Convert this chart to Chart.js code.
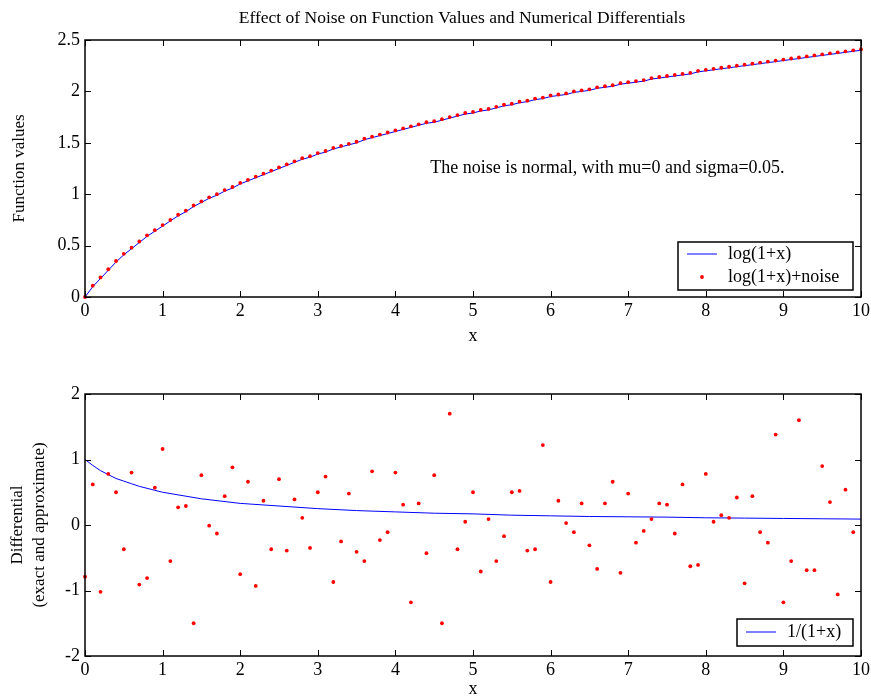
<!DOCTYPE html>
<html>
<head>
<meta charset="utf-8">
<title>Effect of Noise on Function Values and Numerical Differentials</title>
<script src="https://cdn.jsdelivr.net/npm/chart.js@4.4.0/dist/chart.umd.min.js"></script>
<style>
  body { margin: 0; background: #fff; }
  #wrap { position: relative; width: 871px; height: 698px; }
  canvas { position: absolute; left: 0; }
</style>
</head>
<body>
<div id="wrap">
  <canvas id="funcChart" width="871" height="350" style="top:0"></canvas>
  <canvas id="diffChart" width="871" height="348" style="top:350px"></canvas>
</div>
<script>
// sample points, x = 0 .. 10 in steps of 0.1
var xValues = [0, 0.1, 0.2, 0.3, 0.4, 0.5, 0.6, 0.7, 0.8, 0.9,
  1, 1.1, 1.2, 1.3, 1.4, 1.5, 1.6, 1.7, 1.8, 1.9,
  2, 2.1, 2.2, 2.3, 2.4, 2.5, 2.6, 2.7, 2.8, 2.9,
  3, 3.1, 3.2, 3.3, 3.4, 3.5, 3.6, 3.7, 3.8, 3.9,
  4, 4.1, 4.2, 4.3, 4.4, 4.5, 4.6, 4.7, 4.8, 4.9,
  5, 5.1, 5.2, 5.3, 5.4, 5.5, 5.6, 5.7, 5.8, 5.9,
  6, 6.1, 6.2, 6.3, 6.4, 6.5, 6.6, 6.7, 6.8, 6.9,
  7, 7.1, 7.2, 7.3, 7.4, 7.5, 7.6, 7.7, 7.8, 7.9,
  8, 8.1, 8.2, 8.3, 8.4, 8.5, 8.6, 8.7, 8.8, 8.9,
  9, 9.1, 9.2, 9.3, 9.4, 9.5, 9.6, 9.7, 9.8, 9.9, 10];

// log(1+x)
var logValues = [0.00, 0.10, 0.18, 0.26, 0.34, 0.41, 0.47, 0.53, 0.59, 0.64,
  0.69, 0.74, 0.79, 0.83, 0.88, 0.92, 0.96, 0.99, 1.03, 1.06,
  1.10, 1.13, 1.16, 1.19, 1.22, 1.25, 1.28, 1.31, 1.34, 1.36,
  1.39, 1.41, 1.44, 1.46, 1.48, 1.50, 1.53, 1.55, 1.57, 1.59,
  1.61, 1.63, 1.65, 1.67, 1.69, 1.70, 1.72, 1.74, 1.76, 1.78,
  1.79, 1.81, 1.82, 1.84, 1.86, 1.87, 1.89, 1.90, 1.92, 1.93,
  1.95, 1.96, 1.97, 1.99, 2.00, 2.01, 2.03, 2.04, 2.05, 2.07,
  2.08, 2.09, 2.10, 2.12, 2.13, 2.14, 2.15, 2.16, 2.17, 2.19,
  2.20, 2.21, 2.22, 2.23, 2.24, 2.25, 2.26, 2.27, 2.28, 2.29,
  2.30, 2.31, 2.32, 2.33, 2.34, 2.35, 2.36, 2.37, 2.38, 2.39, 2.40];

// red dots of the upper plot (they sit a hair above the curve)
var noisyValues = [0.00, 0.11, 0.19, 0.27, 0.35, 0.42, 0.48, 0.54, 0.60, 0.65,
  0.70, 0.75, 0.80, 0.84, 0.89, 0.93, 0.97, 1.00, 1.04, 1.07,
  1.11, 1.14, 1.17, 1.20, 1.23, 1.26, 1.29, 1.32, 1.35, 1.37,
  1.40, 1.42, 1.45, 1.47, 1.49, 1.51, 1.54, 1.56, 1.58, 1.60,
  1.62, 1.64, 1.66, 1.68, 1.70, 1.71, 1.73, 1.75, 1.77, 1.79,
  1.80, 1.82, 1.83, 1.85, 1.87, 1.88, 1.90, 1.91, 1.93, 1.94,
  1.96, 1.97, 1.98, 2.00, 2.01, 2.02, 2.04, 2.05, 2.06, 2.08,
  2.09, 2.10, 2.11, 2.13, 2.14, 2.15, 2.16, 2.17, 2.18, 2.20,
  2.21, 2.22, 2.23, 2.24, 2.25, 2.26, 2.27, 2.28, 2.29, 2.30,
  2.31, 2.32, 2.33, 2.34, 2.35, 2.36, 2.37, 2.38, 2.39, 2.40, 2.41];

// exact differential 1/(1+x)
var exactX = [0, 0.1, 0.2, 0.3, 0.4, 0.5, 0.6, 0.7, 0.8, 0.9, 1, 1.5, 2, 2.5, 3, 3.5, 4, 4.5, 5,
  5.5, 6, 6.5, 7, 7.5, 8, 8.5, 9, 9.5, 10];
var exactValues = [1.00, 0.91, 0.83, 0.77, 0.71, 0.67, 0.63, 0.59, 0.56, 0.53, 0.50, 0.40, 0.33,
  0.29, 0.25, 0.22, 0.20, 0.18, 0.17, 0.15, 0.14, 0.13, 0.125, 0.12, 0.11, 0.105, 0.10, 0.095, 0.09];

// numerical differential of the noisy data, x = 0 .. 9.9
var approxValues = [-0.79, 0.62, -1.02, 0.78, 0.50, -0.37, 0.80, -0.91, -0.81, 0.57,
  1.16, -0.55, 0.27, 0.29, -1.50, 0.76, -0.01, -0.13, 0.44, 0.88,
  -0.75, 0.66, -0.93, 0.37, -0.37, 0.70, -0.39, 0.39, 0.11, -0.35,
  0.50, 0.74, -0.87, -0.25, 0.48, -0.41, -0.55, 0.82, -0.23, -0.11,
  0.80, 0.31, -1.18, 0.33, -0.43, 0.76, -1.50, 1.70, -0.37, 0.05,
  0.50, -0.71, 0.09, -0.55, -0.17, 0.50, 0.52, -0.39, -0.37, 1.22,
  -0.87, 0.37, 0.03, -0.11, 0.33, -0.31, -0.67, 0.33, 0.66, -0.73,
  0.48, -0.27, -0.09, 0.09, 0.33, 0.31, -0.13, 0.62, -0.63, -0.61,
  0.78, 0.05, 0.15, 0.11, 0.42, -0.89, 0.44, -0.11, -0.27, 1.38,
  -1.18, -0.55, 1.60, -0.69, -0.69, 0.90, 0.35, -1.06, 0.54, -0.11];

var titleText = 'Effect of Noise on Function Values and Numerical Differentials';
var noteText = 'The noise is normal, with mu=0 and sigma=0.05.';
var fontFam = "'Liberation Serif', 'Times New Roman', serif";

function toPoints(xs, ys) {
    var pts = [];
    for (var i = 0; i < ys.length; i++) pts.push({ x: xs[i], y: ys[i] });
    return pts;
}

// matlab style box: frame, inward ticks on all sides, title, legend box and note
var matlabBox = {
    id: 'matlabBox',
    afterDatasetsDraw: function (chart, args, opts) {
        var ctx = chart.ctx, a = chart.chartArea;
        var sx = chart.scales.x, sy = chart.scales.y;
        ctx.save();
        ctx.strokeStyle = '#000';
        ctx.lineWidth = 1;
        ctx.beginPath();
        sx.ticks.forEach(function (t) {
            var px = Math.round(sx.getPixelForValue(t.value)) + 0.5;
            ctx.moveTo(px, a.top); ctx.lineTo(px, a.top + 6);
            ctx.moveTo(px, a.bottom); ctx.lineTo(px, a.bottom - 6);
        });
        sy.ticks.forEach(function (t) {
            var py = Math.round(sy.getPixelForValue(t.value)) + 0.5;
            ctx.moveTo(a.left, py); ctx.lineTo(a.left + 6, py);
            ctx.moveTo(a.right, py); ctx.lineTo(a.right - 6, py);
        });
        ctx.stroke();
        ctx.lineWidth = 1.5;
        ctx.strokeRect(a.left, a.top, a.right - a.left, a.bottom - a.top);

        ctx.fillStyle = '#000';
        ctx.textBaseline = 'middle';
        if (opts.title) {
            ctx.font = '17.5px ' + fontFam;
            ctx.textAlign = 'center';
            ctx.fillText(opts.title.text, opts.title.x, opts.title.y);
        }
        ctx.font = '18px ' + fontFam;
        if (opts.note) {
            ctx.textAlign = 'left';
            ctx.fillText(opts.note.text, sx.getPixelForValue(opts.note.x), sy.getPixelForValue(opts.note.y));
        }
        if (opts.legend) {
            var L = opts.legend;
            var bx = a.right - L.right - L.width, by = a.bottom - L.bottom - L.height;
            ctx.fillStyle = '#fff';
            ctx.fillRect(bx, by, L.width, L.height);
            ctx.strokeStyle = '#000';
            ctx.lineWidth = 1.5;
            ctx.strokeRect(bx, by, L.width, L.height);
            var row = 0;
            chart.data.datasets.forEach(function (ds) {
                if (!ds.label) return;
                var ry = by + L.firstRow + row * L.rowGap;
                row++;
                if (ds.showLine === false) {
                    ctx.fillStyle = ds.backgroundColor;
                    ctx.beginPath();
                    ctx.arc(bx + 24, ry, ds.pointRadius, 0, Math.PI * 2);
                    ctx.fill();
                } else {
                    ctx.strokeStyle = ds.borderColor;
                    ctx.lineWidth = ds.borderWidth;
                    ctx.beginPath();
                    ctx.moveTo(bx + 9, ry); ctx.lineTo(bx + 39, ry);
                    ctx.stroke();
                }
                ctx.fillStyle = '#000';
                ctx.textAlign = 'left';
                ctx.fillText(ds.label, bx + 50, ry);
            });
        }
        ctx.restore();
    }
};

function axisOptions(min, max, step, title, xHeight, titlePad, yTitlePad) {
    return {
        x: {
            type: 'linear', min: 0, max: 10,
            grid: { display: false, drawTicks: false }, border: { display: false },
            ticks: { stepSize: 1, color: '#000', padding: 3, maxRotation: 0, font: { family: fontFam, size: 18 } },
            title: { display: true, text: 'x', color: '#000', padding: { top: 0, bottom: titlePad }, font: { family: fontFam, size: 18, lineHeight: 1.0 } },
            afterFit: function (scale) {
                scale.height = xHeight;
                // let the end labels hang past the frame, as in the original
                scale.paddingLeft = 0;
                scale.paddingRight = 0;
            }
        },
        y: {
            type: 'linear', min: min, max: max,
            grid: { display: false, drawTicks: false }, border: { display: false },
            ticks: {
                stepSize: step, color: '#000', padding: 5, font: { family: fontFam, size: 18 },
                callback: function (v) { return String(v); }
            },
            title: { display: true, text: title, color: '#000', padding: { top: yTitlePad, bottom: 0 }, font: { family: fontFam, size: 17, lineHeight: 1.3 } },
            afterFit: function (scale) { scale.width = 85; }
        }
    };
}

//upper plot: function values
new Chart(document.getElementById('funcChart'), {
    type: 'line',
    data: {
        datasets: [{
            label: 'log(1+x)',
            data: toPoints(xValues, logValues),
            borderColor: '#0000ff', borderWidth: 1, pointRadius: 0, tension: 0, order: 1
        }, {
            label: 'log(1+x)+noise',
            data: toPoints(xValues, noisyValues),
            showLine: false, pointRadius: 1.9, backgroundColor: '#ff0000', borderWidth: 0, order: 0, clip: 4
        }]
    },
    options: {
        responsive: false, animation: false,
        layout: { padding: { top: 40, right: 10, left: 0, bottom: 0 } },
        scales: axisOptions(0, 2.5, 0.5, 'Function values', 53, 5, 8),
        plugins: {
            legend: { display: false },
            tooltip: { enabled: false },
            matlabBox: {
                title: { x: 462, y: 18, text: titleText },
                note: { x: 4.45, y: 1.255, text: noteText },
                legend: { width: 175, height: 48, right: 8, bottom: 7, firstRow: 12, rowGap: 23 }
            }
        }
    },
    plugins: [matlabBox]
});

//lower plot: exact and numerical differential
new Chart(document.getElementById('diffChart'), {
    type: 'line',
    data: {
        datasets: [{
            label: '1/(1+x)',
            data: toPoints(exactX, exactValues),
            borderColor: '#0000ff', borderWidth: 1, pointRadius: 0, tension: 0, order: 1
        }, {
            data: toPoints(xValues, approxValues),
            showLine: false, pointRadius: 1.9, backgroundColor: '#ff0000', borderWidth: 0, order: 0, clip: 4
        }]
    },
    options: {
        responsive: false, animation: false,
        layout: { padding: { top: 44, right: 10, left: 0, bottom: 0 } },
        scales: axisOptions(-2, 2, 1, ['Differential', '(exact and approximate)'], 42, 0, 6),
        plugins: {
            legend: { display: false },
            tooltip: { enabled: false },
            matlabBox: {
                legend: { width: 116, height: 27, right: 8, bottom: 10, firstRow: 13, rowGap: 23 }
            }
        }
    },
    plugins: [matlabBox]
});
</script>
</body>
</html>
